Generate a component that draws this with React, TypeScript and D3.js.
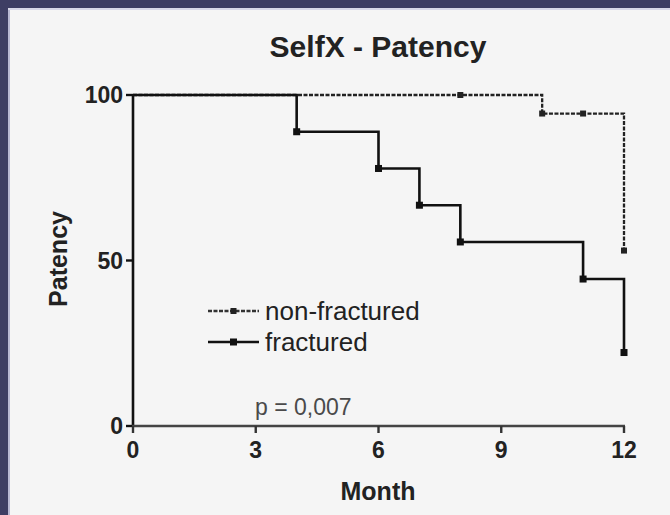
import React from "react";
import * as d3 from "d3";

const months = [0, 3, 6, 9, 12];
const yTicks = [0, 50, 100];

const nonFracTimes = [0, 10, 12];
const nonFracValues = [100, 94.4, 53];
const nonFracMarkTimes = [8, 10, 11, 12];
const nonFracMarkValues = [100, 94.4, 94.4, 53];

const fracTimes = [0, 4, 6, 7, 8, 11, 12];
const fracValues = [100, 88.9, 77.8, 66.7, 55.6, 44.4, 22.2];

const seriesNames = ["non-fractured", "fractured"];
const titleText = "SelfX - Patency";
const pText = "p = 0,007";

const W = 670;
const H = 515;
const FONT = "'Liberation Sans', Arial, sans-serif";

export default function App() {
  const x = d3.scaleLinear().domain([0, 12]).range([133, 624]);
  const y = d3.scaleLinear().domain([0, 100]).range([426, 95]);

  const nfPath: [number, number][] = nonFracTimes.map((t, i) => [t, nonFracValues[i]]);
  const fPath: [number, number][] = fracTimes.map((t, i) => [t, fracValues[i]]);

  const stepPath = (pts: [number, number][]) => {
    const out: [number, number][] = [];
    for (let i = 0; i < pts.length; i++) {
      if (i > 0) out.push([pts[i][0], pts[i - 1][1]]);
      out.push(pts[i]);
    }
    return d3
      .line<[number, number]>()
      .x((d) => x(d[0]))
      .y((d) => y(d[1]))(out) as string;
  };

  return (
    <div style={{ position: "fixed", left: 0, top: 0 }}>
      <svg width={W} height={H} style={{ display: "block" }}>
        <rect x={0} y={0} width={W} height={H} fill="#f5f5f5" />
        <rect x={0} y={0} width={W} height={8} fill="#3e3e64" />
        <rect x={0} y={0} width={8} height={H} fill="#3e3e64" />
        <rect x={8} y={8} width={2} height={H} fill="#b9b9d4" />
        <rect x={8} y={8} width={W} height={2} fill="#d8d8e8" />

        <text x={378} y={57} textAnchor="middle" fontFamily={FONT} fontWeight="bold" fontSize={30} fill="#222">
          {titleText}
        </text>

        {/* y axis */}
        <line x1={133} x2={133} y1={y(100)} y2={y(0)} stroke="#111" strokeWidth={2.6} />
        {yTicks.map((t) => (
          <g key={t}>
            <line x1={126} x2={133} y1={y(t)} y2={y(t)} stroke="#111" strokeWidth={2.4} />
            <text x={123} y={y(t) + 8} textAnchor="end" fontFamily={FONT} fontWeight="bold" fontSize={23} fill="#222">
              {t}
            </text>
          </g>
        ))}

        {/* x axis */}
        <line x1={132} x2={x(12) + 1} y1={y(0)} y2={y(0)} stroke="#444" strokeWidth={2.6} />
        {months.map((m) => (
          <g key={m}>
            <line x1={x(m)} x2={x(m)} y1={y(0)} y2={y(0) + 7} stroke="#333" strokeWidth={2.4} />
            <text x={x(m)} y={458} textAnchor="middle" fontFamily={FONT} fontWeight="bold" fontSize={23} fill="#222">
              {m}
            </text>
          </g>
        ))}

        <text x={378} y={500} textAnchor="middle" fontFamily={FONT} fontWeight="bold" fontSize={25} fill="#222">
          Month
        </text>
        <text
          transform={`translate(67,259) rotate(-90)`}
          textAnchor="middle"
          fontFamily={FONT}
          fontWeight="bold"
          fontSize={25}
          fill="#222"
        >
          Patency
        </text>

        {/* non-fractured */}
        <path d={stepPath(nfPath)} fill="none" stroke="#222" strokeWidth={2.3} strokeDasharray="4,1.5" />
        {nonFracMarkTimes.map((t, i) => (
          <rect key={i} x={x(t) - 3} y={y(nonFracMarkValues[i]) - 3} width={6} height={6} fill="#222" />
        ))}

        {/* fractured */}
        <path d={stepPath(fPath)} fill="none" stroke="#111" strokeWidth={2.6} />
        {fracTimes.slice(1).map((t, i) => (
          <rect key={i} x={x(t) - 3.5} y={y(fracValues[i + 1]) - 3.5} width={7} height={7} fill="#111" />
        ))}

        {/* legend */}
        <line x1={208} x2={259} y1={311} y2={311} stroke="#333" strokeWidth={2.3} strokeDasharray="4,1.5" />
        <rect x={230.5} y={308} width={6} height={6} fill="#222" />
        <text x={265} y={320} fontFamily={FONT} fontSize={26} fill="#222">
          {seriesNames[0]}
        </text>
        <line x1={208} x2={259} y1={342} y2={342} stroke="#111" strokeWidth={2.6} />
        <rect x={230} y={338.5} width={7} height={7} fill="#111" />
        <text x={265} y={351} fontFamily={FONT} fontSize={26} fill="#222">
          {seriesNames[1]}
        </text>

        <text x={255} y={415} fontFamily={FONT} fontSize={23} fill="#4a4a4a">
          {pText}
        </text>
      </svg>
    </div>
  );
}
